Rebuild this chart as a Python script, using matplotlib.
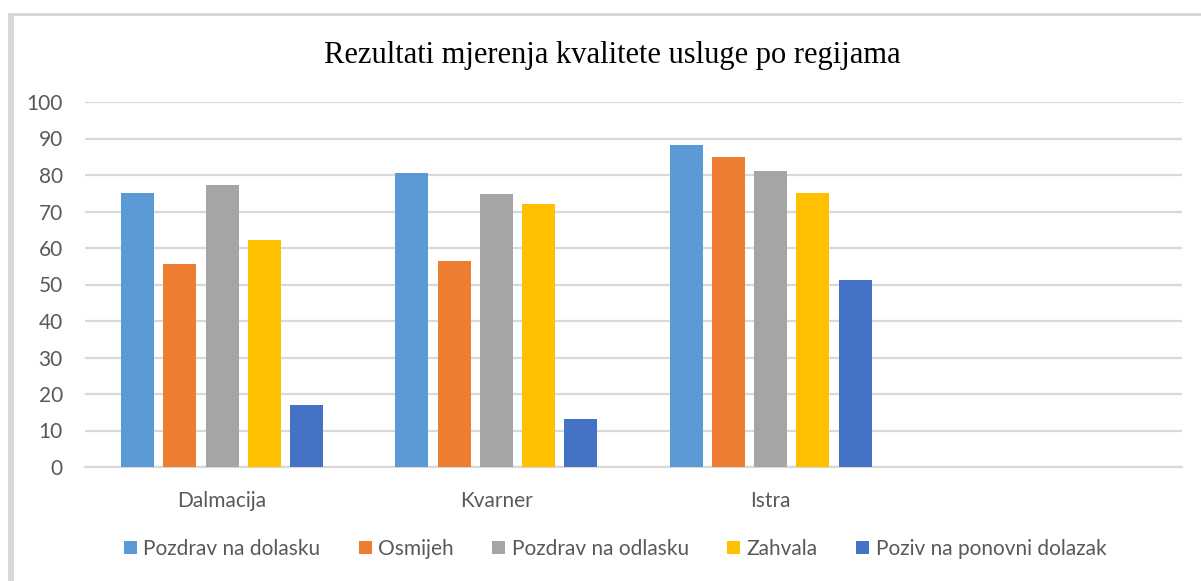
import numpy as np
import matplotlib.pyplot as plt
from matplotlib.patches import Patch, Rectangle

# --- Podaci ---
regije = ['Dalmacija', 'Kvarner', 'Istra', '']
serije = ['Pozdrav na dolasku', 'Osmijeh', 'Pozdrav na odlasku', 'Zahvala', 'Poziv na ponovni dolazak']
pozdrav_dolazak = [75.0, 80.5, 88.1]
osmijeh = [55.5, 56.5, 84.9]
pozdrav_odlazak = [77.3, 74.8, 81.0]
zahvala = [62.2, 72.0, 75.1]
poziv = [16.9, 13.1, 51.2]
boje = ['#5B9BD5', '#ED7D31', '#A5A5A5', '#FFC000', '#4472C4']

vrijednosti = [pozdrav_dolazak, osmijeh, pozdrav_odlazak, zahvala, poziv]

W, H = 1201, 581
fig = plt.figure(figsize=(W / 100, H / 100), dpi=100)
plt.rcParams['font.family'] = ['Lato', 'DejaVu Sans']

# okvir grafikona (lijevo i gore)
fig.patches.append(Rectangle((8 / W, 0), 6 / W, 1 - 13 / H, transform=fig.transFigure,
                             color='#D9D9D9', lw=0, zorder=0))
fig.patches.append(Rectangle((8 / W, 1 - 16 / H), 1 - 8 / W, 3 / H, transform=fig.transFigure,
                             color='#D9D9D9', lw=0, zorder=0))

ax = fig.add_axes([85 / W, (H - 467) / H, 1097 / W, 365 / H])

x = np.arange(len(regije))
korak = 0.154
sirina = 0.121
for i, (ime, vals, c) in enumerate(zip(serije, vrijednosti, boje)):
    ax.bar(x[:len(vals)] + (i - 2) * korak, vals, width=sirina, color=c, label=ime, zorder=3)

ax.set_xlim(-0.5, 3.5)
ax.set_ylim(0, 100)
ax.set_yticks(range(0, 101, 10))
ax.set_xticks(x)
ax.set_xticklabels(regije)
ax.grid(axis='y', color='#D9D9D9', lw=1.6, zorder=0)
for s in ['top', 'right', 'left']:
    ax.spines[s].set_visible(False)
ax.spines['bottom'].set_color('#D9D9D9')
ax.spines['bottom'].set_linewidth(1.6)
ax.tick_params(axis='both', length=0, labelsize=15, labelcolor='#595959')
ax.tick_params(axis='y', pad=16)
ax.tick_params(axis='x', pad=17)

fig.text(0.5096, 1 - 55 / H, 'Rezultati mjerenja kvalitete usluge po regijama',
         ha='center', va='center', fontsize=22, family='Liberation Serif', color='black')

ruke = [Patch(facecolor=c, edgecolor='none') for c in boje]
fig.legend(ruke, serije, loc='center', bbox_to_anchor=(615 / W, 1 - 549 / H), ncol=5,
           frameon=False, fontsize=15, labelcolor='#595959',
           handlelength=0.63, handleheight=0.63, handletextpad=0.3, columnspacing=1.85)

fig.savefig('out.png', dpi=100)
